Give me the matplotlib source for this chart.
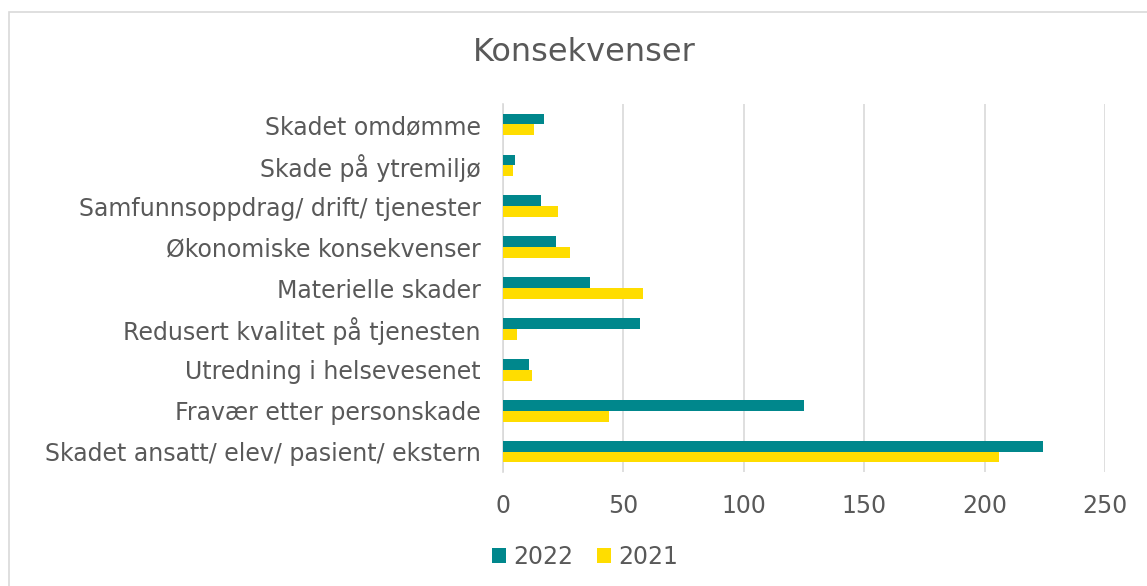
import matplotlib
matplotlib.use("Agg")
import matplotlib.pyplot as plt
import numpy as np
from matplotlib.patches import Rectangle

categories = [
    "Skadet ansatt/ elev/ pasient/ ekstern",
    "Fravær etter personskade",
    "Utredning i helsevesenet",
    "Redusert kvalitet på tjenesten",
    "Materielle skader",
    "Økonomiske konsekvenser",
    "Samfunnsoppdrag/ drift/ tjenester",
    "Skade på ytremiljø",
    "Skadet omdømme",
]
values_2022 = [224, 125, 11, 57, 36, 22, 16, 5, 17]
values_2021 = [206, 44, 12, 6, 58, 28, 23, 4, 13]
x_ticks = [0, 50, 100, 150, 200, 250]

teal = "#00878C"
yellow = "#FFDD00"
grey_text = "#595959"

plt.rcParams["font.family"] = ["DejaVu Sans"]

fig = plt.figure(figsize=(11.47, 5.86), dpi=100)
ax = fig.add_axes([0.4385, 0.1945, 0.525, 0.628])

y = np.arange(len(categories))
h = 0.265
ax.barh(y + h / 2, values_2022, height=h, color=teal, label="2022", zorder=3)
ax.barh(y - h / 2, values_2021, height=h, color=yellow, label="2021", zorder=3)

ax.set_xlim(0, 250)
ax.set_ylim(-0.5, len(categories) - 0.5)
ax.set_xticks(x_ticks)
ax.set_yticks(y)
ax.set_yticklabels(categories)
ax.tick_params(axis="both", length=0, labelsize=17, colors=grey_text)
ax.tick_params(axis="x", pad=16)
ax.tick_params(axis="y", pad=16)
ax.grid(axis="x", color="#D9D9D9", linewidth=1.2, zorder=0)
for side in ["top", "right", "bottom"]:
    ax.spines[side].set_visible(False)
ax.spines["left"].set_color("#D9D9D9")
ax.spines["left"].set_linewidth(1.2)

fig.text(0.509, 0.91, "Konsekvenser", ha="center", va="center",
         fontsize=23, color=grey_text)

leg = fig.legend(loc="center", bbox_to_anchor=(0.51, 0.05), ncol=2,
                 frameon=False, fontsize=17, handlelength=0.6, handleheight=0.6,
                 handletextpad=0.3, columnspacing=1.0)
for t in leg.get_texts():
    t.set_color(grey_text)

fig.patches.append(Rectangle((0.008, -0.01), 1.0, 0.99, transform=fig.transFigure,
                             fill=False, edgecolor="#D9D9D9", linewidth=1.2))

fig.savefig("out.png", dpi=100)
